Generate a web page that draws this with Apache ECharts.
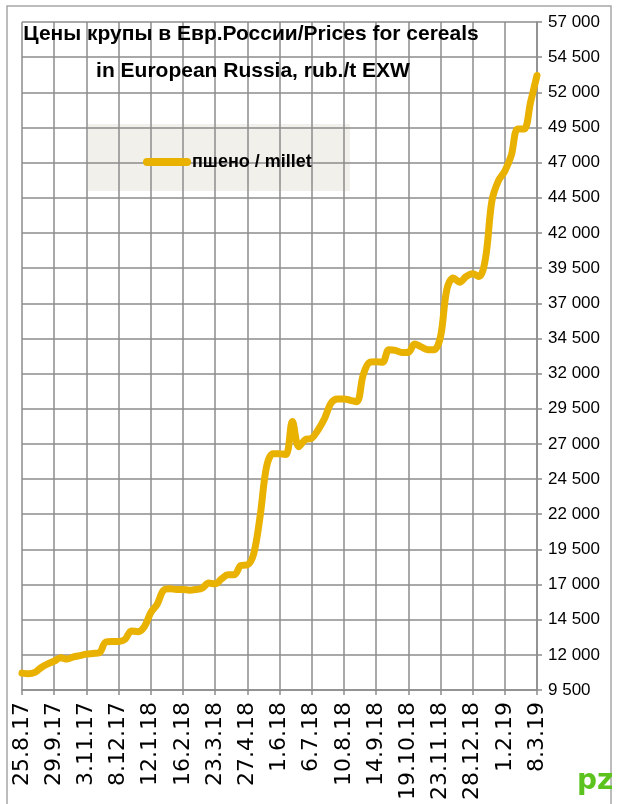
<!DOCTYPE html>
<html lang="ru">
<head>
    <meta charset="UTF-8">
    <title>Prices for cereals</title>
    <script src="https://cdn.jsdelivr.net/npm/echarts@6/dist/echarts.min.js"></script>
    <style>
        html, body { margin: 0; padding: 0; background: #fff; }
        #chart { width: 617px; height: 804px; }
    </style>
</head>
<body>
<div id="chart"></div>
<script type="text/javascript">
    // weekly dates (every 5th one is labelled)
    var weeks = [
        '25.8.17', '1.9.17', '8.9.17', '15.9.17', '22.9.17',
        '29.9.17', '6.10.17', '13.10.17', '20.10.17', '27.10.17',
        '3.11.17', '10.11.17', '17.11.17', '24.11.17', '1.12.17',
        '8.12.17', '15.12.17', '22.12.17', '29.12.17', '5.1.18',
        '12.1.18', '19.1.18', '26.1.18', '2.2.18', '9.2.18',
        '16.2.18', '23.2.18', '2.3.18', '9.3.18', '16.3.18',
        '23.3.18', '30.3.18', '6.4.18', '13.4.18', '20.4.18',
        '27.4.18', '4.5.18', '11.5.18', '18.5.18', '25.5.18',
        '1.6.18', '8.6.18', '15.6.18', '22.6.18', '29.6.18',
        '6.7.18', '13.7.18', '20.7.18', '27.7.18', '3.8.18',
        '10.8.18', '17.8.18', '24.8.18', '31.8.18', '7.9.18',
        '14.9.18', '21.9.18', '28.9.18', '5.10.18', '12.10.18',
        '19.10.18', '26.10.18', '2.11.18', '9.11.18', '16.11.18',
        '23.11.18', '30.11.18', '7.12.18', '14.12.18', '21.12.18',
        '28.12.18', '4.1.19', '11.1.19', '18.1.19', '25.1.19',
        '1.2.19', '8.2.19', '15.2.19', '22.2.19', '1.3.19',
        '8.3.19'
    ];

    // пшено / millet, rub./t
    var millet = [
        10700, 10650, 10750, 11100, 11350,
        11550, 11800, 11700, 11850, 11950,
        12050, 12100, 12150, 12900, 12950,
        12950, 13100, 13700, 13650, 14000,
        15000, 15600, 16600, 16700, 16650,
        16650, 16600, 16650, 16750, 17100,
        17050, 17400, 17700, 17700, 18350,
        18400, 19200, 21900, 25400, 26300,
        26300, 26250, 28600, 26800, 27300,
        27400, 28000, 28800, 29900, 30200,
        30200, 30100, 30000, 31900, 32800,
        32850, 32800, 33700, 33650, 33500,
        33500, 34100, 33900, 33700, 33700,
        34600, 38000, 38800, 38500, 38900,
        39100, 38900, 40200, 44300, 45700,
        46400, 47500, 49400, 49400, 51300,
        53200
    ];

    var seriesName = 'пшено / millet';
    var titleLines = ['Цены крупы в Евр.России/Prices for cereals', 'in European Russia, rub./t EXW'];
    var yMin = 9500, yMax = 57000, yStep = 2500;

    var lineColor = '#e9b100';
    var gridColor = '#8c8c8c';

    var myChart = echarts.init(document.getElementById('chart'));

    function fmt(v) {
        return String(v).replace(/\B(?=(\d{3})+(?!\d))/g, ' ');
    }

    var titleFont = { fontFamily: 'Liberation Sans', fontWeight: 'bold', fontSize: 21, color: '#000' };

    var option = {
        backgroundColor: '#fff',
        animation: false,
        title: [{
            text: titleLines[0],
            left: 246, top: 19, textAlign: 'center',
            textStyle: titleFont
        }, {
            text: titleLines[1],
            left: 248, top: 56, textAlign: 'center',
            textStyle: titleFont
        }],
        legend: {
            data: [seriesName],
            left: 138, top: 148,
            itemWidth: 48, itemHeight: 8,
            itemGap: 2,
            icon: 'path://M4,0 H44 A4,4 0 0 1 44,8 H4 A4,4 0 0 1 4,0 Z',
            textStyle: { fontFamily: 'Liberation Sans', fontWeight: 'bold', fontSize: 18, color: '#000', padding: [0, 0, 0, -4] }
        },
        graphic: [{
            type: 'rect', z: -1,
            shape: { x: 88, y: 124, width: 262, height: 67 },
            style: { fill: '#f2f0ea' }
        }, {
            type: 'rect', z: 100,
            shape: { x: 7, y: 6, width: 604, height: 810 },
            style: { fill: null, stroke: '#a6a6a6', lineWidth: 1.5 }
        }, {
            type: 'text', z: 100,
            left: 577, top: 768,
            style: { text: 'pz', fontFamily: 'DejaVu Sans', fontWeight: 'bold', fontSize: 28, fill: '#5cc21e' }
        }],
        grid: { left: 22, right: 80, top: 22, bottom: 114, containLabel: false },
        xAxis: {
            type: 'category',
            data: weeks,
            boundaryGap: false,
            axisLine: { show: true, lineStyle: { color: gridColor, width: 1.5 } },
            axisTick: { show: true, interval: 4, length: 5, lineStyle: { color: gridColor, width: 1.5 } },
            axisLabel: {
                interval: 4, rotate: 90, margin: 12,
                fontFamily: 'DejaVu Sans', fontSize: 22, color: '#000'
            },
            splitLine: { show: true, interval: 4, lineStyle: { color: gridColor, width: 1.5 } }
        },
        yAxis: {
            type: 'value',
            position: 'right',
            min: yMin, max: yMax, interval: yStep,
            axisLine: { show: true, lineStyle: { color: gridColor, width: 1.5 } },
            axisTick: { show: true, length: 5, lineStyle: { color: gridColor, width: 1.5 } },
            axisLabel: {
                margin: 11, formatter: fmt,
                fontFamily: 'Liberation Sans', fontSize: 17, color: '#000'
            },
            splitLine: { show: true, lineStyle: { color: gridColor, width: 1.5 } }
        },
        series: [{
            name: seriesName,
            type: 'line',
            data: millet,
            smooth: 0.35,
            symbol: 'none',
            lineStyle: { color: lineColor, width: 7, cap: 'round', join: 'round' },
            itemStyle: { color: lineColor }
        }]
    };

    myChart.setOption(option);
</script>
</body>
</html>
